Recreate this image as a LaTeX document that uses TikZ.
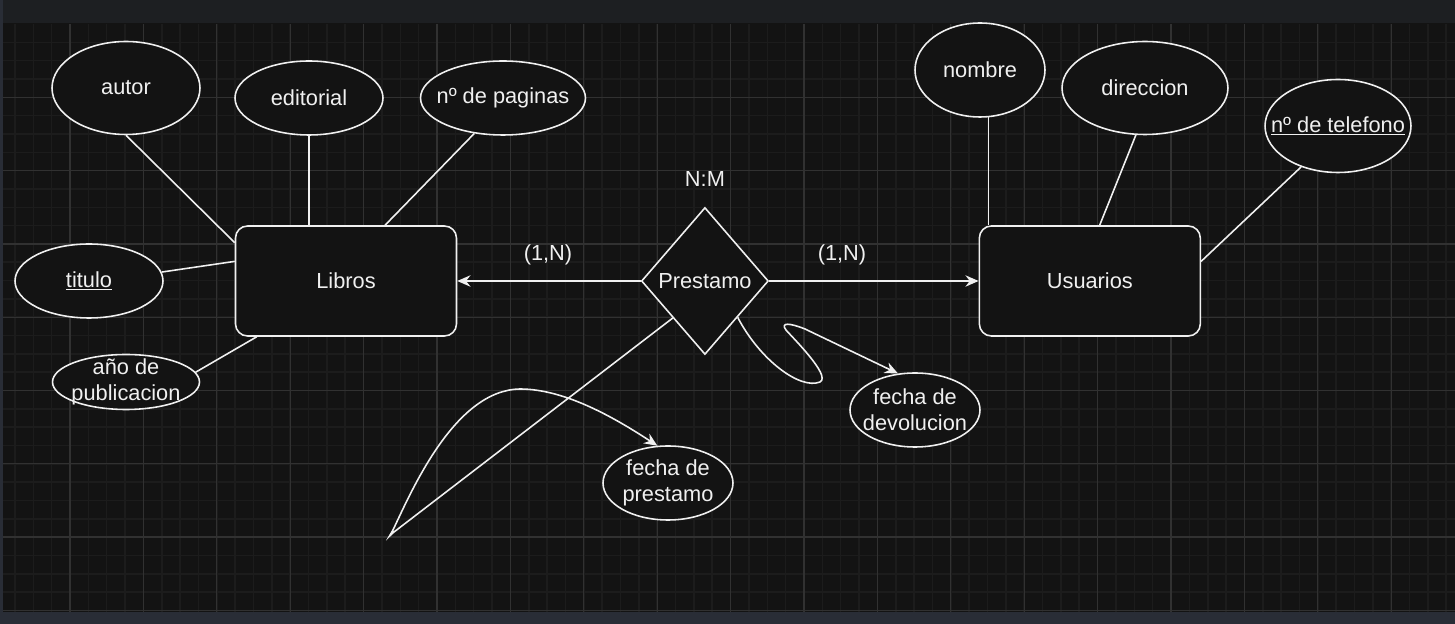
\documentclass[tikz,border=0pt]{standalone}
\usepackage{fontspec}
\setmainfont{Liberation Sans}
\usetikzlibrary{shapes,arrows.meta}
\definecolor{canvas}{HTML}{131313}
\definecolor{minorline}{HTML}{1C1C1C}
\definecolor{majorline}{HTML}{313131}
\definecolor{topbar}{HTML}{1D1F22}
\definecolor{edgebar}{HTML}{292D36}
\definecolor{ink}{HTML}{F0F0F0}
\tikzstyle{entity}=[rectangle,
	rounded corners=0.24cm,
	line width=0.9pt,
	minimum width=4.42cm,
	minimum height=2.2cm,
	draw=ink,
	fill=canvas]
\tikzstyle{attrib}=[ellipse,
	line width=0.9pt,
	inner sep=0pt,
	draw=ink,
	fill=canvas]
\tikzstyle{relation}=[diamond,
	line width=0.9pt,
	inner sep=0pt,
	minimum width=2.54cm,
	minimum height=2.94cm,
	draw=ink,
	fill=canvas]
\tikzstyle{link}=[line width=0.9pt,
	draw=ink]
\tikzstyle{arrowed}=[-{Stealth[length=7.5pt,width=6.5pt,inset=2.5pt]}]

\begin{document}
\begin{tikzpicture}[x=0.02cm, y=-0.02cm, font=\fontsize{12.4pt}{14.8pt}\selectfont, text=ink]
	\useasboundingbox (0,0) rectangle (1455,624);
	% frame and grid
	\fill[topbar] (0,0) rectangle (1455,23);
	\fill[canvas] (3,23) rectangle (1455,612);
	\fill[edgebar] (0,0) rectangle (3,624);
	\fill[edgebar] (0,612) rectangle (1455,624);
	\begin{scope}
		\clip (3,25) rectangle (1455,612);
		\foreach \m in {-3,...,75}
			\draw[minorline, line width=0.9pt] ({70+18.35*\m},24) -- ({70+18.35*\m},612);
		\foreach \n in {1,...,32}
			\draw[minorline, line width=0.9pt] (3,{24+18.33*\n}) -- (1455,{24+18.33*\n});
		\foreach \k in {0,...,18}
			\draw[majorline, line width=0.7pt] ({70+73.4*\k},24) -- ({70+73.4*\k},612);
		\foreach \k in {1,...,8}
			\draw[majorline, line width=0.7pt] (3,{24+73.3*\k}) -- (1455,{24+73.3*\k});
	\end{scope}

	\node (libros) [entity] at (346,281) {Libros};
	\node (prestamo) [relation, right of=libros, node distance=7.18cm, label=center:Prestamo] {};
	\node (usuarios) [entity, right of=libros, node distance=14.88cm] {Usuarios};
	\node (nm) [above of=prestamo, node distance=2.04cm] {N:M};
	\node (cardl) at (548,255) {(1,N)};
	\node (cardr) at (842,255) {(1,N)};

	\node (autor) [attrib, minimum width=2.96cm, minimum height=1.86cm, label=center:autor] at (126,88) {};
	\node (editorial) [attrib, minimum width=2.96cm, minimum height=1.48cm, label=center:editorial] at (309,98) {};
	\node (paginas) [attrib, minimum width=3.3cm, minimum height=1.48cm, label=center:nº de paginas] at (503,98) {};
	\node (titulo) [attrib, minimum width=2.96cm, minimum height=1.48cm, label=center:\underline{titulo}] at (89,281) {};
	\node (publicacion) [attrib, minimum width=2.94cm, minimum height=1.1cm, label={[align=center]center:año de\\publicacion}] at (126,382) {};

	\node (nombre) [attrib, minimum width=2.6cm, minimum height=1.88cm, label=center:nombre] at (980,70) {};
	\node (direccion) [attrib, minimum width=3.32cm, minimum height=1.86cm, label=center:direccion] at (1145,88) {};
	\node (telefono) [attrib, minimum width=2.92cm, minimum height=1.86cm, label=center:\underline{nº de telefono}] at (1338,126) {};

	\node (devolucion) [attrib, minimum width=2.6cm, minimum height=1.48cm, label={[align=center]center:fecha de\\devolucion}] at (915,410) {};
	\node (fprestamo) [attrib, minimum width=2.6cm, minimum height=1.48cm, label={[align=center]center:fecha de\\prestamo}] at (668,483) {};

	\draw[link] (autor.south) -- (libros.161);
	\draw[link] (editorial.south) -- (editorial.south |- libros.north);
	\draw[link] (paginas.231) -- (libros.55);
	\draw[link] (titulo.7) -- (libros.170);
	\draw[link] (publicacion.8) -- (libros.212);
	\draw[link, arrowed] (prestamo.west) -- (libros.east);
	\draw[link, arrowed] (prestamo.east) -- (usuarios.west);
	\draw[link] (nombre.-80) -- (nombre.-80 |- usuarios.north);
	\draw[link] (direccion.259) -- (usuarios.80);
	\draw[link] (telefono.228) -- (usuarios.10);

	\draw[link, arrowed] (prestamo.-48) .. controls (760,360) and (800,390) .. (820,382) .. controls (832,376) and (790,335) .. (786,330) .. controls (780,322) and (790,323) .. (805,329) -- (devolucion.115);
	\draw[link, arrowed] (prestamo.229) -- (394,532) .. controls (388,537) and (388,539) .. (393,530) .. controls (412,490) and (455,390) .. (520,389) .. controls (565,389) and (615,418) .. (fprestamo.106);
\end{tikzpicture}
\end{document}
